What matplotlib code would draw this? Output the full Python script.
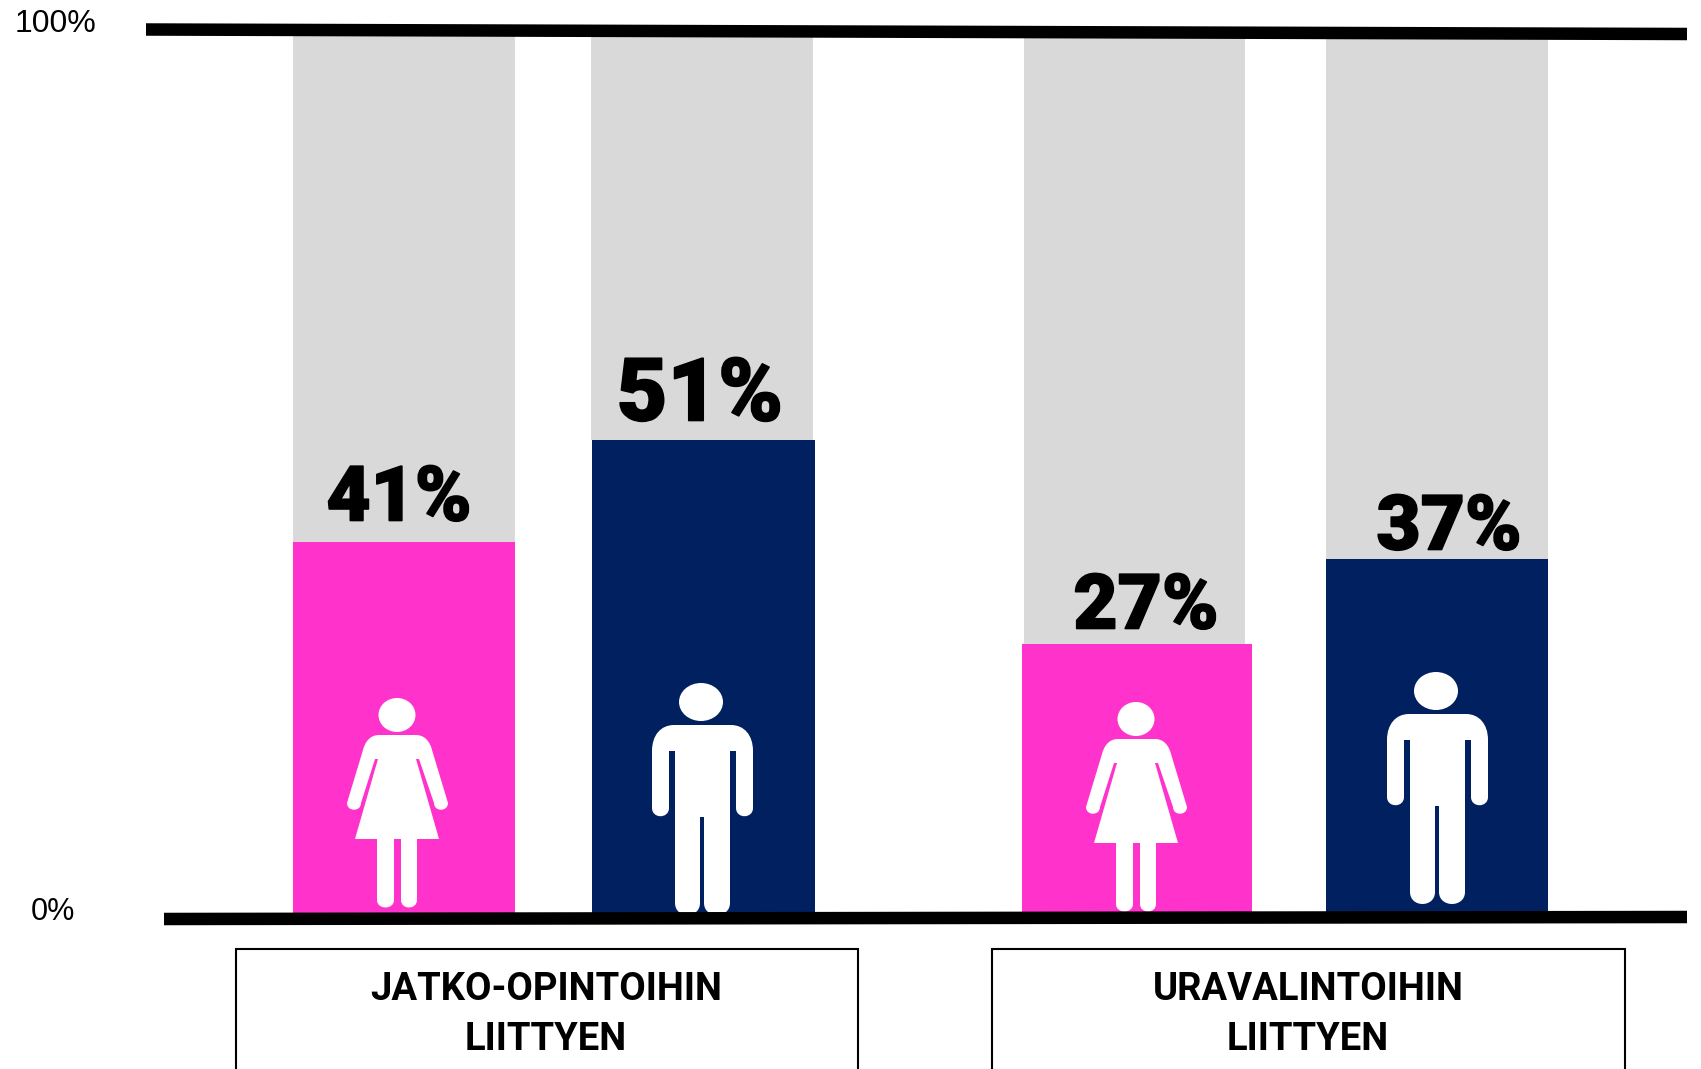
import matplotlib
matplotlib.use("Agg")
import matplotlib.pyplot as plt
import matplotlib.patheffects as pe
from matplotlib.path import Path
from matplotlib.patches import PathPatch, Ellipse, Rectangle

W, H = 1701, 1069
groups = ["JATKO-OPINTOIHIN\nLIITTYEN", "URAVALINTOIHIN\nLIITTYEN"]
genders = ["nainen", "mies", "nainen", "mies"]
value_labels = ["41%", "51%", "27%", "37%"]
bar_heights = [42.3, 53.9, 30.7, 40.4]   # drawn height
y_ticks = ["0%", "100%"]

bar_left = [293, 592, 1022, 1326]
bar_right = [515, 815, 1252, 1548]
gray_left = [293, 591, 1024, 1326]
gray_right = [515, 813, 1245, 1548]
colors = {"nainen": "#FF33CC", "mies": "#002060"}
GRAY = "#D9D9D9"

fig = plt.figure(figsize=(W / 100, H / 100), dpi=100, facecolor="white")
# y axis: 0% at pixel 913, 100% at pixel 36
px_per = (913 - 36) / 100
ax = fig.add_axes([0, 0, 1, 1])
ax.set_xlim(0, W)
ax.set_ylim(-(H - 913) / px_per, 100 + 36 / px_per)
ax.axis("off")
for i, v in enumerate(bar_heights):
    ax.bar(gray_left[i], 100 - v, bottom=v, width=gray_right[i] - gray_left[i],
           align="edge", color=GRAY, linewidth=0, zorder=1)
    ax.bar(bar_left[i], v, width=bar_right[i] - bar_left[i], align="edge",
           color=colors[genders[i]], linewidth=0, zorder=2)

# overlay in pixel coordinates for decoration
ov = fig.add_axes([0, 0, 1, 1])
ov.set_xlim(0, W)
ov.set_ylim(H, 0)
ov.axis("off")
ov.patch.set_alpha(0)

M, L, C4, Z = Path.MOVETO, Path.LINETO, Path.CURVE4, Path.CLOSEPOLY


def shape(cmds, ox, oy):
    verts, codes = [], []
    for c in cmds:
        if c[0] == "M":
            verts.append(c[1]); codes.append(M)
        elif c[0] == "L":
            verts.append(c[1]); codes.append(L)
        elif c[0] == "C":
            verts += [c[1], c[2], c[3]]; codes += [C4, C4, C4]
    verts.append(verts[0]); codes.append(Z)
    verts = [(x + ox, y + oy) for x, y in verts]
    return PathPatch(Path(verts, codes), fc="white", ec="none", zorder=5)


def tip(x0, x1, yc, ybot):
    return ("C", (x0, ybot + 2), (x1, ybot + 2), (x1, yc))


woman = [("M", (-18, 0)), ("C", (-27, 0), (-32, 7), (-34, 15)),
         ("L", (-50, 68)), tip(-50, -36, 68, 75), ("L", (-22, 24)), ("L", (-19, 24)),
         ("L", (-42, 104)), ("L", (-20, 104)), ("L", (-20, 165)), tip(-20, -3, 165, 173),
         ("L", (-3, 104)), ("L", (4, 104)), ("L", (4, 165)), tip(4, 20, 165, 173),
         ("L", (20, 104)), ("L", (42, 104)), ("L", (19, 24)), ("L", (22, 24)),
         ("L", (37, 68)), tip(37, 51, 68, 75), ("L", (35, 15)),
         ("C", (33, 7), (28, 0), (19, 0))]

man = [("M", (-27, 0)), ("C", (-40, 0), (-49, 10), (-49, 26)),
       ("L", (-49, 83)), tip(-49, -32, 83, 92), ("L", (-32, 26)), ("L", (-26, 26)),
       ("L", (-26, 178)), tip(-26, -1, 178, 192), ("L", (-1, 92)), ("L", (3, 92)),
       ("L", (3, 178)), tip(3, 29, 178, 192), ("L", (29, 26)), ("L", (35, 26)),
       ("L", (35, 83)), tip(35, 52, 83, 92), ("L", (52, 26)),
       ("C", (52, 10), (43, 0), (30, 0))]

for (cx, top) in [(397, 735), (1136, 739)]:
    ov.add_patch(shape(woman, cx, top))
    ov.add_patch(Ellipse((cx, top - 20), 37, 34, fc="white", ec="none", zorder=5))
for (cx, top) in [(701, 725), (1436, 714)]:
    ov.add_patch(shape(man, cx, top))
    ov.add_patch(Ellipse((cx, top - 23), 44, 38, fc="white", ec="none", zorder=5))

# thick rules (slightly tilted)
for (x0, y0, x1, y1) in [(146, 29.5, 1687, 34), (164, 919, 1687, 917)]:
    ov.plot([x0, x1], [y0, y1], color="black", lw=12.5 * 0.72, solid_capstyle="butt", zorder=6)

# value labels
lab_pos = [(399, 492, 55), (700, 388, 63), (1146, 600, 55), (1449, 521, 55)]
for s, (x, y, fs) in zip(value_labels, lab_pos):
    ov.text(x, y, s, ha="center", va="center_baseline", fontsize=fs,
            family="Roboto", weight="black", color="black", zorder=7,
            path_effects=[pe.withStroke(linewidth=1.2, foreground="black")])

# tick labels
ov.text(55, 20, y_ticks[1], ha="center", va="center_baseline", fontsize=23,
        family="Liberation Sans", color="black")
ov.text(53, 908, y_ticks[0], ha="center", va="center_baseline", fontsize=22,
        family="Liberation Sans", color="black")

# category boxes, running off the bottom of the canvas
for (x0, x1, xc), txt in zip([(236, 858, 546), (991.5, 1625, 1308)], groups):
    ov.add_patch(Rectangle((x0, 949), x1 - x0, 200, fc="white", ec="black", lw=1.5, zorder=3))
    l1, l2 = txt.split("\n")
    ov.text(xc, 985, l1, ha="center", va="center_baseline", fontsize=27.5, family="Roboto", weight="bold")
    ov.text(xc, 1036, l2, ha="center", va="center_baseline", fontsize=27.5, family="Roboto", weight="bold")

fig.savefig("out.png", dpi=100, facecolor="white")
